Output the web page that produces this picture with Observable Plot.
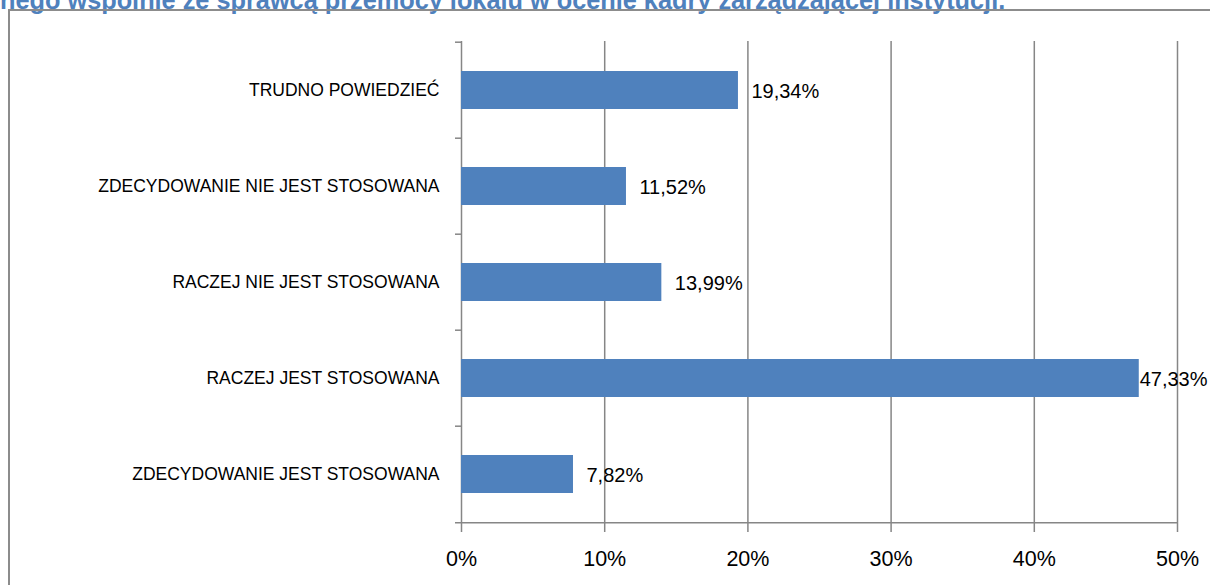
<!DOCTYPE html>
<html>
<head>
<meta charset="utf-8">
<script src="https://cdn.jsdelivr.net/npm/d3@7"></script>
<script src="https://cdn.jsdelivr.net/npm/@observablehq/plot@0.6"></script>
<style>
  html, body { margin: 0; padding: 0; background: #fff; }
  #wrap { position: relative; width: 1210px; height: 585px; overflow: hidden; }
  #title { position: absolute; left: 0; top: -12px; white-space: nowrap;
    font-family: "Liberation Sans", Arial, sans-serif;
    font-weight: bold; font-size: 25.3px; line-height: 25px; color: #4f81bd; }
  #frame { position: absolute; left: 8px; top: 9px; width: 1300px; height: 700px;
    border: 2px solid #8c8c8c; box-sizing: border-box; }
  #chart { position: absolute; left: 0; top: 0; }
</style>
</head>
<body>
<div id="wrap">
  <div id="title">nego wspólnie ze sprawcą przemocy lokalu w ocenie kadry zarządzającej instytucji.</div>
  <div id="frame"></div>
  <div id="chart"></div>
</div>
<script>
const categories = [
  "TRUDNO POWIEDZIEĆ",
  "ZDECYDOWANIE NIE JEST STOSOWANA",
  "RACZEJ NIE JEST STOSOWANA",
  "RACZEJ JEST STOSOWANA",
  "ZDECYDOWANIE JEST STOSOWANA"
];
const values = [19.34, 11.52, 13.99, 47.33, 7.82];
const xTicks = [0, 10, 20, 30, 40, 50];
const xTickLabels = ["0%", "10%", "20%", "30%", "40%", "50%"];

const data = categories.map((c, i) => ({cat: c, value: values[i], label: values[i].toFixed(2).replace(".", ",") + "%"}));

const W = 1210, H = 585, mT = 41, mB = 61, mL = 461, mR = 33;
const step = (H - mT - mB) / categories.length;
const FONT = '"Liberation Sans", Arial, sans-serif';
const GRID = "#868686";

const chart = Plot.plot({
  width: W, height: H,
  marginTop: mT, marginBottom: mB, marginLeft: mL, marginRight: mR,
  style: {fontFamily: FONT, background: "transparent", color: "#000"},
  x: {domain: [0, 50]},
  y: {domain: categories, paddingInner: 0.6, paddingOuter: 0.3},
  marks: [
    Plot.ruleX(xTicks, {stroke: GRID, strokeWidth: 1.5}),
    Plot.ruleY(data, {y: "cat", x1: 0, x2: 0, insetLeft: -6, dy: -step / 2, stroke: GRID, strokeWidth: 1.5}),
    Plot.ruleY([categories[categories.length - 1]], {y: d => d, x1: 0, x2: 50, insetLeft: -6, dy: step / 2, stroke: GRID, strokeWidth: 1.5}),
    Plot.barX(data, {x: "value", y: "cat", fill: "#4f81bd"}),
    Plot.text(data.filter(d => d.value < 45), {x: "value", y: "cat", text: "label", textAnchor: "start", dx: 13, dy: 1, fontSize: 20, fill: "#000"}),
    Plot.text(data.filter(d => d.value >= 45), {y: "cat", text: "label", frameAnchor: "right", textAnchor: "end", dx: 30, dy: 1, fontSize: 20, fill: "#000"}),
    Plot.axisX({ticks: xTicks, tickFormat: d => xTickLabels[xTicks.indexOf(d)], tickSize: 8, tickPadding: 18, stroke: GRID, strokeWidth: 1.5, fontSize: 21.5, fill: "#000", label: null}),
    Plot.axisY({tickSize: 0, tickPadding: 22, fontSize: 17.5, fill: "#000", label: null})
  ]
});
document.getElementById("chart").appendChild(chart);
</script>
</body>
</html>
